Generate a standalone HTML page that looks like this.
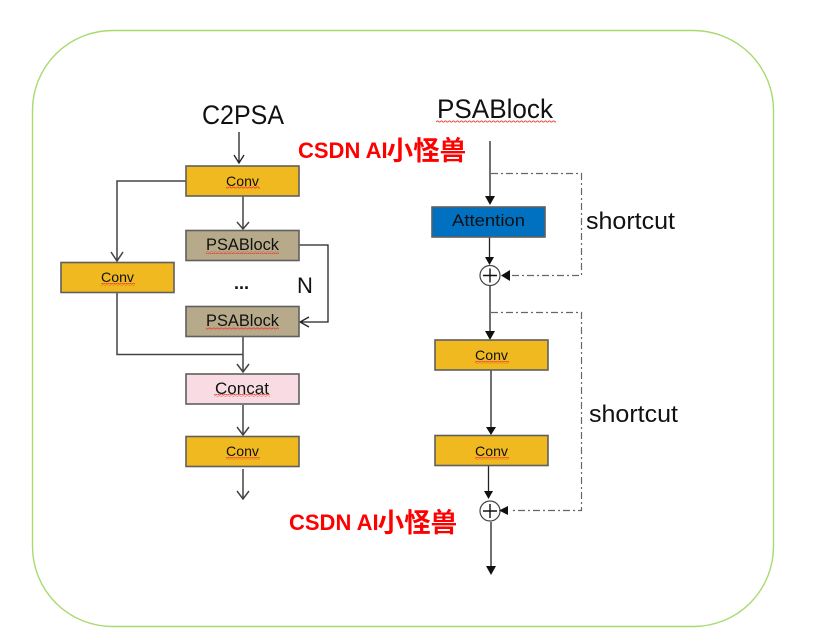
<!DOCTYPE html>
<html><head><meta charset="utf-8">
<style>
html,body{margin:0;padding:0;background:#fff}
svg{display:block;filter:blur(.3px)}
text{font-family:"Liberation Sans","Noto Sans CJK SC",sans-serif;fill:#111}
.w{fill:url(#wave);stroke:none}
.b{stroke-width:1.6;stroke:#5f5f5f}
.c{fill:none;stroke:#444;stroke-width:1.5}
.k{fill:none;stroke:#222;stroke-width:1.3}
.d{fill:none;stroke:#666;stroke-width:1.2;stroke-dasharray:7 3 2 3}
.a{fill:#111;stroke:none}
.wm{fill:#ff0000;font-weight:bold;font-size:22px}
.wm tspan{font-size:26.500px;fill:#ff0000}
</style></head>
<body>
<svg width="828" height="633" viewBox="0 0 828 633" xmlns="http://www.w3.org/2000/svg">
<defs>
<pattern id="wave" width="4" height="3" patternUnits="userSpaceOnUse">
<path d="M0 2 L1 1 L2 1 L3 2 L4 2" fill="none" stroke="#e8483a" stroke-width="0.9"/>
</pattern>
</defs>
<rect x="32.5" y="30.5" width="741" height="596" rx="80" ry="80" fill="#fff" stroke="#a9d96f" stroke-width="1.4"/>

<!-- Left connectors -->
<path class="k" d="M239 132V162M234 155L239 163L244 155"/>
<path class="c" d="M243 196V229M237 222L243 229L249 222"/>
<path class="c" d="M186 181H117V261M111 252L117 261L123 252"/>
<path class="k" d="M299 245H328V322H301M309 317L300 322L309 327"/>
<path class="c" d="M117 293V354.500H243"/>
<path class="c" d="M243 337V372M237 364L243 372L249 364"/>
<path class="c" d="M243 405V435M237 427L243 435L249 427"/>
<path class="c" d="M243 469V499M237 491L243 499L249 491"/>

<!-- Left boxes -->
<rect class="b" x="186" y="166" width="113" height="30" fill="#f0b91f"/>
<rect class="b" x="186" y="230.500" width="113" height="30" fill="#b6aa8a"/>
<rect class="b" x="61" y="262.500" width="113" height="30" fill="#f0b91f"/>
<rect class="b" x="186" y="306.500" width="113" height="30" fill="#b6aa8a"/>
<rect class="b" x="186" y="374" width="113" height="30" fill="#f9dce3"/>
<rect class="b" x="186" y="436.500" width="113" height="30" fill="#f0b91f"/>

<text x="226" y="186" font-size="14" textLength="33" lengthAdjust="spacingAndGlyphs">Conv</text>
<rect class="w" x="226" y="186" width="34" height="3"/>
<text x="206" y="250" font-size="16.500" textLength="73" lengthAdjust="spacingAndGlyphs">PSABlock</text>
<rect class="w" x="206" y="251" width="73" height="3"/>
<text x="101" y="282" font-size="14" textLength="33" lengthAdjust="spacingAndGlyphs">Conv</text>
<rect class="w" x="101" y="283" width="34" height="3"/>
<text x="206" y="326" font-size="16.500" textLength="73" lengthAdjust="spacingAndGlyphs">PSABlock</text>
<rect class="w" x="206" y="327" width="73" height="3"/>
<text x="215" y="394" font-size="16.500" textLength="54" lengthAdjust="spacingAndGlyphs">Concat</text>
<rect class="w" x="214" y="394" width="56" height="3"/>
<text x="226" y="456" font-size="14" textLength="33" lengthAdjust="spacingAndGlyphs">Conv</text>
<rect class="w" x="226" y="457" width="34" height="3"/>

<text x="202" y="124" font-size="27" textLength="82" lengthAdjust="spacingAndGlyphs">C2PSA</text>
<text x="234" y="289" font-size="18" font-weight="bold">...</text>
<text x="297" y="293" font-size="22">N</text>

<!-- Right connectors -->
<path class="k" d="M490 141V197"/>
<path class="a" d="M485 196H495L490 205Z"/>
<path class="d" d="M491 173.500H581.500V275.500H512"/>
<path class="a" d="M501 275.500L510 270V281Z"/>
<path class="k" d="M489.500 237V257"/>
<path class="a" d="M485 257H494L489.500 265Z"/>
<path class="k" d="M490 286V331"/>
<path class="a" d="M485 331H495L490 340Z"/>
<path class="d" d="M491 312.500H581.500V510.500H512"/>
<path class="k" d="M491 370V427"/>
<path class="a" d="M486 427H496L491 435Z"/>
<path class="k" d="M488.500 466V491"/>
<path class="a" d="M484 491H493L488.500 499Z"/>
<path class="k" d="M491 522V566"/>
<path class="a" d="M486 566H496L491 575Z"/>

<!-- Right boxes -->
<rect class="b" x="432" y="207" width="113" height="30" fill="#0070c0"/>
<rect class="b" x="435" y="340" width="113" height="30" fill="#f0b91f"/>
<rect class="b" x="435" y="435.500" width="113" height="30" fill="#f0b91f"/>
<text x="452" y="226" font-size="16.500" textLength="73" lengthAdjust="spacingAndGlyphs">Attention</text>
<text x="475" y="360" font-size="14" textLength="33" lengthAdjust="spacingAndGlyphs">Conv</text>
<rect class="w" x="475" y="361" width="34" height="3"/>
<text x="475" y="456" font-size="14" textLength="33" lengthAdjust="spacingAndGlyphs">Conv</text>
<rect class="w" x="475" y="457" width="34" height="3"/>

<!-- Sum nodes -->
<circle cx="490" cy="275.500" r="10" fill="#fff" stroke="#444" stroke-width="1.2"/>
<path d="M483 275.500H497M490 268.500V282.500" stroke="#111" stroke-width="1.4"/>
<circle cx="490" cy="511" r="10" fill="#fff" stroke="#444" stroke-width="1.2"/>
<path d="M483 511H497M490 504V518" stroke="#111" stroke-width="1.4"/>
<path class="a" d="M499 510.500L508 506V515Z"/>

<text x="437" y="118" font-size="27" textLength="116" lengthAdjust="spacingAndGlyphs">PSABlock</text>
<rect class="w" x="436" y="120" width="120" height="3"/>
<text x="586" y="229" font-size="24" textLength="89" lengthAdjust="spacingAndGlyphs">shortcut</text>
<text x="589" y="422" font-size="24" textLength="89" lengthAdjust="spacingAndGlyphs">shortcut</text>

<!-- Watermarks -->
<text class="wm" x="298" y="158">CSDN AI<tspan dx="-1" dy="2">小怪兽</tspan></text>
<text class="wm" x="289" y="530">CSDN AI<tspan dx="-1" dy="2">小怪兽</tspan></text>
</svg>
</body></html>
